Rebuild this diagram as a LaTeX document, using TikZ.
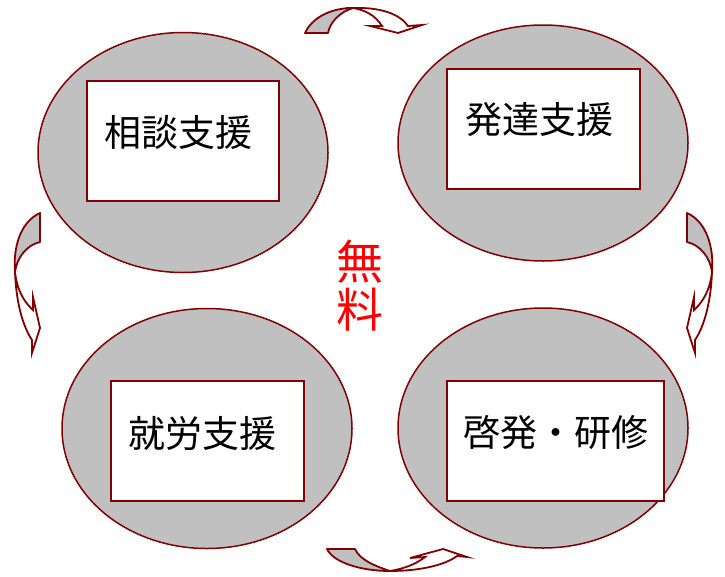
\documentclass[tikz,border=0pt]{standalone}
\usepackage{fontspec}
\usetikzlibrary{shapes.geometric}
\newfontfamily\jp{Noto Sans CJK JP}
\definecolor{dred}{RGB}{128,0,0}
\definecolor{lgray}{RGB}{192,192,192}
\tikzset{
  blob/.style={ellipse, draw=dred, fill=lgray, line width=1.5pt, minimum width=290pt, minimum height=240pt, inner sep=0pt},
  card/.style={rectangle, draw=dred, fill=white, line width=1.8pt, inner sep=0pt},
  label/.style={font=\jp\fontsize{37}{40}\selectfont, text=black, inner sep=0pt},
  backside/.style={draw=dred, fill=lgray, line width=1.8pt, line join=round},
  frontside/.style={draw=dred, fill=white, line width=1.8pt, line join=miter},
}
\begin{document}
\begin{tikzpicture}[x=1pt,y=-1pt]
\useasboundingbox (0,0) rectangle (725,576);
% ellipses
\node[blob] (e1) at (183,152.5) {};
\node[blob, minimum height=236pt] (e2) at (543,143) {};
\node[blob] (e3) at (207,428.5) {};
\node[blob] (e4) at (543,428) {};
% cards
\node[card, minimum width=192pt, minimum height=120pt] (r1) at (183,141) {};
\node[card, minimum width=193pt, minimum height=120pt] (r2) at (543.5,129) {};
\node[card, minimum width=193pt, minimum height=120pt] (r3) at (207.5,441) {};
\node[card, minimum width=217pt, minimum height=120pt] (r4) at (555.5,441) {};
% texts
\node[label] (t1) at (178,132) {相談支援};
\node[label] (t2) at (539,120) {発達支援};
\node[label] (t3) at (202.5,433) {就労支援};
\node[label] (t4) at (556,433) {啓発・研修};
\node[font=\jp\fontsize{47}{48}\selectfont, text=red, align=center, inner sep=0pt] (free) at (360,286) {無\\料};
% top curved arrow
\draw[frontside] (353,8) .. controls (380,7) and (400,14) .. (408,26) -- (422,25) -- (398,33) -- (370,26) -- (382,26) .. controls (375,15) and (365,10) .. (353,8) -- cycle;
\draw[backside] (305,33) .. controls (312,18) and (330,8) .. (353,8) .. controls (340,12) and (330,22) .. (328,33) -- cycle;
% right curved arrow
\draw[frontside] (712,272) .. controls (711,300) and (705,325) .. (695,340) -- (695,353) -- (687,328) -- (694,297) -- (694,310) .. controls (703,302) and (710,290) .. (712,272) -- cycle;
\draw[backside] (687,213) .. controls (707,222) and (714,248) .. (712,272) .. controls (710,257) and (700,245) .. (687,242) -- cycle;
% bottom curved arrow
\draw[frontside] (390,571) .. controls (420,571) and (445,565) .. (457,556) -- (467,557) -- (443,549) -- (410,558) -- (425,557) .. controls (415,565) and (402,569) .. (390,571) -- cycle;
\draw[backside] (327,549) .. controls (333,562) and (360,571) .. (390,571) .. controls (375,566) and (360,560) .. (355,549) -- cycle;
% left curved arrow
\draw[frontside] (15,272) .. controls (16,300) and (22,325) .. (32,340) -- (32,353) -- (40,328) -- (33,297) -- (33,310) .. controls (24,302) and (17,290) .. (15,272) -- cycle;
\draw[backside] (40,213) .. controls (20,222) and (13,248) .. (15,272) .. controls (17,257) and (27,245) .. (40,242) -- cycle;
\end{tikzpicture}
\end{document}
